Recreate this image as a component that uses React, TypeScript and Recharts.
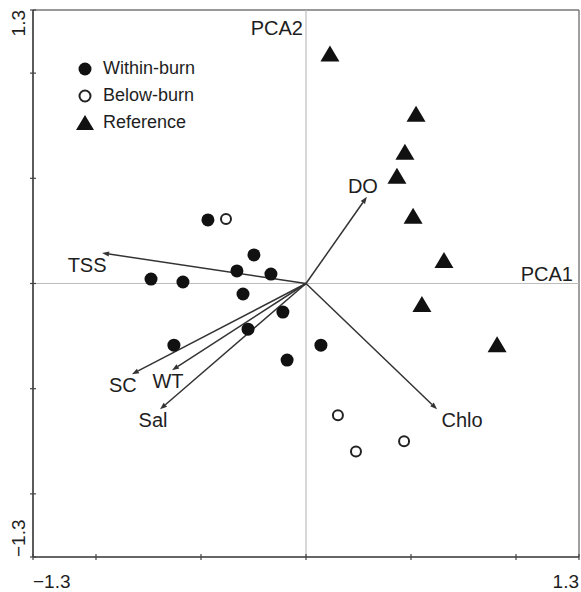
import { ScatterChart, Scatter, XAxis, YAxis, ReferenceLine, Legend } from 'recharts'

// sample scores on the first two components
const withinBurnPC1 = [-0.467, -0.248, -0.329, -0.167, -0.738, -0.586, -0.3, -0.11, -0.276, -0.629, -0.09, 0.071]
const withinBurnPC2 = [0.302, 0.136, 0.06, 0.045, 0.021, 0.007, -0.05, -0.136, -0.217, -0.293, -0.364, -0.293]
const belowBurnPC1 = [-0.381, 0.152, 0.238, 0.467]
const belowBurnPC2 = [0.307, -0.626, -0.798, -0.75]
const referencePC1 = [0.114, 0.524, 0.471, 0.433, 0.51, 0.657, 0.552, 0.91]
const referencePC2 = [1.088, 0.802, 0.621, 0.507, 0.317, 0.107, -0.102, -0.293]

// variable loadings (arrows)
const variables = ['TSS', 'SC', 'WT', 'Sal', 'DO', 'Chlo']
const loadingPC1 = [-0.971, -0.829, -0.638, -0.695, 0.29, 0.624]
const loadingPC2 = [0.145, -0.431, -0.412, -0.598, 0.412, -0.598]

const axisTicks = [-1.3, -1, -0.5, 0, 0.5, 1, 1.3]
const seriesNames = ['Within-burn', 'Below-burn', 'Reference']

const FONT = '"Liberation Sans", Arial, Helvetica, sans-serif'
const INK = '#1e1e1e'

// where each arrow label sits relative to the arrow tip (px)
const labelOffset: Record<string, [number, number]> = {
  TSS: [-15, 12],
  SC: [-9, 11],
  WT: [-4, 11],
  Sal: [-7, 11],
  DO: [-4, -11],
  Chlo: [25, 11],
}

const toPoints = (xs: number[], ys: number[]) => xs.map((x, i) => ({ x, y: ys[i] }))

const withinBurn = toPoints(withinBurnPC1, withinBurnPC2)
const belowBurn = toPoints(belowBurnPC1, belowBurnPC2)
const reference = toPoints(referencePC1, referencePC2)

const fmt = (v: number) => (v < 0 ? '\u2212' + Math.abs(v).toFixed(1) : v.toFixed(1))

function XTick({ x, y, payload }: any) {
  const v = payload.value
  const edge = Math.abs(v) === 1.3
  return (
    <g>
      <line x1={x} x2={x} y1={y - 3} y2={y + 3} stroke="#444" strokeWidth={1.2} />
      {edge && (
        <text x={x} y={y + 31} textAnchor={v < 0 ? 'start' : 'end'} fontSize={19} fontFamily={FONT} fill={INK}>
          {fmt(v)}
        </text>
      )}
    </g>
  )
}

function YTick({ x, y, payload }: any) {
  const v = payload.value
  const edge = Math.abs(v) === 1.3
  const tx = x - 8
  return (
    <g>
      <line x1={x - 3} x2={x + 3} y1={y} y2={y} stroke="#444" strokeWidth={1.2} />
      {edge && (
        <text
          x={tx}
          y={y}
          transform={`rotate(-90 ${tx} ${y})`}
          textAnchor={v < 0 ? 'start' : 'end'}
          fontSize={19}
          fontFamily={FONT}
          fill={INK}
        >
          {fmt(v)}
        </text>
      )}
    </g>
  )
}

const FilledDot = ({ cx, cy }: any) => <circle cx={cx} cy={cy} r={6.5} fill="#111" />
const OpenDot = ({ cx, cy }: any) => <circle cx={cx} cy={cy} r={5} fill="#fff" stroke="#222" strokeWidth={2} />
const Triangle = ({ cx, cy }: any) => (
  <polygon points={`${cx},${cy - 9} ${cx - 9.5},${cy + 7} ${cx + 9.5},${cy + 7}`} fill="#111" />
)

function Arrow({ x1, y1, x2, y2, name }: any) {
  const ang = Math.atan2(y2 - y1, x2 - x1)
  const len = 7
  const w = 2.6
  const bx = x2 - len * Math.cos(ang)
  const by = y2 - len * Math.sin(ang)
  const px = -Math.sin(ang) * w
  const py = Math.cos(ang) * w
  const [dx, dy] = labelOffset[name] || [0, 0]
  return (
    <g>
      <line x1={x1} y1={y1} x2={bx} y2={by} stroke="#333" strokeWidth={1.5} />
      <polygon points={`${x2},${y2} ${bx + px},${by + py} ${bx - px},${by - py}`} fill="#333" />
      <text
        x={x2 + dx}
        y={y2 + dy}
        textAnchor="middle"
        dominantBaseline="central"
        fontSize={20}
        fontFamily={FONT}
        fill={INK}
      >
        {name}
      </text>
    </g>
  )
}

const legendIcons = [
  <circle key="a" cx={9} cy={9} r={6.5} fill="#111" />,
  <circle key="b" cx={9} cy={9} r={5.5} fill="#fff" stroke="#222" strokeWidth={2} />,
  <polygon key="c" points="9,1 0,16 18,16" fill="#111" />,
]

function LegendBox() {
  return (
    <div style={{ fontFamily: FONT, fontSize: 18, color: INK }}>
      {seriesNames.map((name, i) => (
        <div key={name} style={{ display: 'flex', alignItems: 'center', height: 27 }}>
          <svg width={18} height={18} style={{ display: 'block' }}>
            {legendIcons[i]}
          </svg>
          <span style={{ marginLeft: 9 }}>{name}</span>
        </div>
      ))}
    </div>
  )
}

export default function App() {
  return (
    <div style={{ position: 'absolute', left: 0, top: 0, background: '#fff' }}>
      <ScatterChart width={581} height={592} margin={{ top: 10, right: 2, bottom: 0, left: 0 }}>
        <XAxis
          type="number"
          dataKey="x"
          domain={[-1.3, 1.3]}
          ticks={axisTicks}
          interval={0}
          height={35}
          tickSize={0}
          tickMargin={0}
          tickLine={false}
          axisLine={{ stroke: '#333', strokeWidth: 1.6 }}
          tick={<XTick />}
          allowDataOverflow
        />
        <YAxis
          type="number"
          dataKey="y"
          domain={[-1.3, 1.3]}
          ticks={axisTicks}
          interval={0}
          width={33}
          tickSize={0}
          tickMargin={0}
          tickLine={false}
          axisLine={{ stroke: '#333', strokeWidth: 1.6 }}
          tick={<YTick />}
          allowDataOverflow
        />
        <ReferenceLine y={1.3} stroke="#777" strokeWidth={1.4} />
        <ReferenceLine x={1.3} stroke="#777" strokeWidth={1.4} />
        <ReferenceLine
          y={0}
          stroke="#bdbdbd"
          strokeWidth={1.2}
          label={(p: any) => (
            <text
              x={p.viewBox.x + p.viewBox.width - 6}
              y={p.viewBox.y - 3}
              textAnchor="end"
              fontSize={20}
              fontFamily={FONT}
              fill={INK}
            >
              PCA1
            </text>
          )}
        />
        <ReferenceLine
          x={0}
          stroke="#bdbdbd"
          strokeWidth={1.2}
          label={(p: any) => (
            <text
              x={p.viewBox.x - 3}
              y={p.viewBox.y + 25}
              textAnchor="end"
              fontSize={20}
              fontFamily={FONT}
              fill={INK}
            >
              PCA2
            </text>
          )}
        />
        {variables.map((name, i) => (
          <ReferenceLine
            key={name}
            segment={[
              { x: 0, y: 0 },
              { x: loadingPC1[i], y: loadingPC2[i] },
            ]}
            shape={(p: any) => <Arrow {...p} name={name} />}
          />
        ))}
        <Scatter name={seriesNames[0]} data={withinBurn} shape={<FilledDot />} isAnimationActive={false} />
        <Scatter name={seriesNames[1]} data={belowBurn} shape={<OpenDot />} isAnimationActive={false} />
        <Scatter name={seriesNames[2]} data={reference} shape={<Triangle />} isAnimationActive={false} />
        <Legend
          layout="vertical"
          align="center"
          verticalAlign="middle"
          content={<LegendBox />}
          wrapperStyle={{ left: 76, top: 55, width: 200, height: 85 }}
        />
      </ScatterChart>
    </div>
  )
}
